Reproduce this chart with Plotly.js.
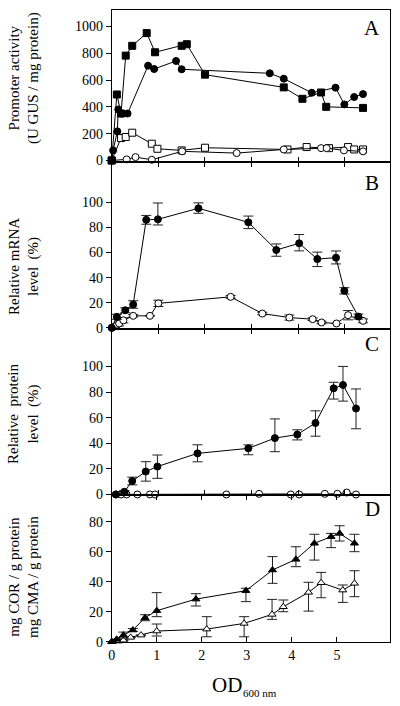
<!DOCTYPE html>
<html><head><meta charset="utf-8">
<script src="https://cdn.plot.ly/plotly-3.0.1.min.js"></script>
<style>html,body{margin:0;padding:0;background:#fff}#chart{width:400px;height:706px}</style>
</head><body><div id="chart"></div>
<script>
// Panel A: promoter activity (U GUS / mg protein)
var aSqFilledX = [0, 0.11, 0.2, 0.3, 0.44, 0.75, 0.93, 1.5, 1.61, 2.0, 3.69, 4.09, 4.49, 4.6, 5.39];
var aSqFilledY = [0, 492, 350, 782, 855, 950, 807, 855, 867, 640, 545, 460, 507, 400, 392];
var aCircFilledX = [0, 0.03, 0.12, 0.14, 0.21, 0.34, 0.78, 0.91, 1.38, 1.5, 3.39, 3.69, 4.29, 4.8, 4.99, 5.2, 5.39];
var aCircFilledY = [0, 75, 217, 380, 350, 350, 707, 682, 742, 680, 650, 610, 505, 543, 418, 473, 495];
var aSqOpenX = [0, 0.2, 0.3, 0.44, 0.86, 0.98, 1.5, 2.0, 3.77, 4.18, 4.66, 5.07, 5.2, 5.39];
var aSqOpenY = [0, 167, 175, 207, 125, 87, 75, 95, 82, 100, 92, 100, 82, 82];
var aCircOpenX = [0, 0.32, 0.51, 0.86, 1.51, 2.68, 3.69, 4.49, 4.61, 4.98, 5.39];
var aCircOpenY = [0, 8, 25, 5, 68, 55, 82, 92, 92, 75, 68];

// Panel B: relative mRNA level (%)
var bFilledX = [0, 0.11, 0.29, 0.46, 0.74, 0.99, 1.86, 2.93, 3.53, 4.02, 4.41, 4.81, 4.99, 5.29];
var bFilledY = [0, 8.8, 14, 18.6, 86, 86.4, 95.2, 84, 62, 67.3, 54.8, 55.9, 29.5, 9];
var bFilledErrP = [0, 2, 2, 3, 3.5, 13, 4.3, 5, 4.8, 7, 5.5, 5.3, 2.5, 2];
var bFilledErrM = [0, 2, 2, 3, 3.5, 4.5, 4, 5, 5, 6, 6, 5, 2.5, 2];
var bOpenX = [0, 0.07, 0.16, 0.25, 0.46, 0.82, 1.0, 2.55, 3.23, 3.81, 4.31, 4.5, 4.82, 5.07, 5.39];
var bOpenY = [0, 1.3, 3.5, 6, 9.6, 9.6, 19.5, 24.7, 11.4, 8.2, 6.9, 4.3, 3.5, 10.1, 5.6];
var bOpenErr = [0, 1, 2, 2, 1, 0, 2.5, 1, 1, 2, 1, 1, 0, 3.7, 1.5];

// Panel C: relative protein level (%)
var cFilledX = [0.09, 0.27, 0.44, 0.73, 0.98, 1.84, 2.93, 3.5, 3.98, 4.37, 4.76, 4.96, 5.24];
var cFilledY = [0, 2.1, 10.5, 17.9, 21.8, 32.1, 36, 44, 46.8, 55.8, 82.9, 85.5, 67.1];
var cFilledErrP = [0, 1, 3, 7.7, 9, 6.7, 2.7, 15, 3.7, 9.5, 4.7, 14.5, 15.3];
var cFilledErrM = [0, 1, 3, 7.5, 9.2, 6.6, 5, 10.6, 4.2, 10.3, 8.4, 12.6, 15.8];
var cOpenX = [0.09, 0.2, 0.32, 0.55, 0.82, 0.93, 2.46, 3.16, 3.84, 4.02, 4.57, 4.84, 5.04, 5.24];
var cOpenY = [0, 0, 0, 0, 0, 0, 0, 0.5, 0, 0, 0.5, 0.5, 1.5, 0];

// Panel D: mg COR / g protein (filled), mg CMA / g protein (open)
var dFilledX = [0, 0.11, 0.26, 0.47, 0.74, 1.0, 1.87, 2.98, 3.57, 4.09, 4.5, 4.87, 5.06, 5.39];
var dFilledY = [0, 1.6, 4.4, 7.8, 16, 20.7, 28.4, 34, 47.8, 54.9, 65.6, 70, 72.2, 65.6];
var dFilledErrP = [0, 0, 2, 1, 2, 12, 3.6, 1.6, 8.9, 8.4, 6, 2.2, 5.1, 6];
var dFilledErrM = [0, 0, 2, 1, 2, 4, 4.6, 7.3, 8.9, 4.9, 11.2, 7.3, 5.1, 5.6];
var dOpenX = [0, 0.15, 0.26, 0.42, 0.65, 1.0, 2.11, 2.94, 3.56, 3.81, 4.37, 4.65, 5.13, 5.39];
var dOpenY = [0, 0.4, 1, 2.9, 4.4, 7.1, 8.4, 12.2, 18.2, 23.3, 32.9, 39.3, 34.4, 38.9];
var dOpenErrP = [0, 0, 0, 0, 0, 4.7, 8.3, 4.5, 10, 4.5, 6.7, 6.9, 3.4, 8.4];
var dOpenErrM = [0, 0, 0, 0, 0, 3.3, 5.1, 8.9, 3.3, 3.3, 12.5, 10, 8.2, 8.9];

var xTickVals = [0, 1, 2, 3, 4, 5];
var xTickText = ['0', '1', '2', '3', '4', '5'];
var aTickVals = [0, 200, 400, 600, 800, 1000];
var pctTickVals = [0, 20, 40, 60, 80, 100];
var dTickVals = [0, 20, 40, 60, 80];

var FONT = 'Liberation Serif, Times New Roman, serif';

function tr(x, y, xa, ya, sym, filled, errP, errM) {
  var t = {
    x: x, y: y, xaxis: xa, yaxis: ya, type: 'scatter', mode: 'lines+markers',
    line: {color: '#000', width: 1},
    marker: {symbol: sym, size: 7, color: filled ? '#000' : '#fff', line: {color: '#000', width: 1}},
    cliponaxis: false, showlegend: false, hoverinfo: 'skip'
  };
  if (errP) {
    t.error_y = {type: 'data', array: errP, arrayminus: errM || errP, symmetric: false,
      color: '#222', thickness: 1, width: 5};
  }
  return t;
}

var data = [
  tr(aSqOpenX, aSqOpenY, 'x', 'y', 'square', false),
  tr(aCircOpenX, aCircOpenY, 'x', 'y', 'circle', false),
  tr(aCircFilledX, aCircFilledY, 'x', 'y', 'circle', true),
  tr(aSqFilledX, aSqFilledY, 'x', 'y', 'square', true),
  tr(bOpenX, bOpenY, 'x2', 'y2', 'circle', false, bOpenErr, bOpenErr),
  tr(bFilledX, bFilledY, 'x2', 'y2', 'circle', true, bFilledErrP, bFilledErrM),
  tr(cOpenX, cOpenY, 'x3', 'y3', 'circle', false),
  tr(cFilledX, cFilledY, 'x3', 'y3', 'circle', true, cFilledErrP, cFilledErrM),
  tr(dOpenX, dOpenY, 'x4', 'y4', 'triangle-up', false, dOpenErrP, dOpenErrM),
  tr(dFilledX, dFilledY, 'x4', 'y4', 'triangle-up', true, dFilledErrP, dFilledErrM)
];

var XD = [0.2793, 0.974];
function xax(anchor, range, mirror, labels) {
  return {domain: XD, anchor: anchor, range: range, showline: true, linecolor: '#000', linewidth: 1,
    mirror: mirror, ticks: 'inside', ticklen: 5, tickcolor: '#000', tickvals: xTickVals, ticktext: xTickText,
    showticklabels: labels, showgrid: false, zeroline: false, fixedrange: true,
    tickfont: {family: FONT, size: 14, color: '#000'}};
}
function yax(anchor, dom, range, vals) {
  return {domain: dom, anchor: anchor, range: range, showline: true, linecolor: '#000', linewidth: 1,
    mirror: true, ticks: 'outside', ticklen: 5, tickcolor: '#000', tickvals: vals,
    ticktext: vals.map(String),
    showgrid: false, zeroline: false, fixedrange: true,
    tickfont: {family: FONT, size: 14, color: '#000'}};
}

function ann(text, x, y, size, angle) {
  return {text: text, x: x, y: y, xref: 'paper', yref: 'paper', showarrow: false,
    xanchor: 'center', yanchor: 'middle', textangle: angle || 0,
    font: {family: FONT, size: size, color: '#000'}};
}

var layout = {
  width: 400, height: 706, margin: {l: 0, r: 0, t: 0, b: 0},
  paper_bgcolor: '#fff', plot_bgcolor: '#fff', showlegend: false,
  xaxis: xax('y', [0, 5.96], true, false),
  xaxis2: xax('y2', [0, 5.96], 'allticks', false),
  xaxis3: xax('y3', [0, 5.96], 'allticks', false),
  xaxis4: xax('y4', [0, 6.17], 'allticks', true),
  yaxis: yax('x', [0.7712, 0.9858], [-8, 1122], aTickVals),
  yaxis2: yax('x2', [0.5347, 0.7712], [-0.5, 132.4], pctTickVals),
  yaxis3: yax('x3', [0.2989, 0.5347], [-0.4, 129.6], pctTickVals),
  yaxis4: yax('x4', [0.0900, 0.2989], [-0.5, 97.8], dTickVals),
  annotations: [
    ann('Promoter activity<br>(U GUS / mg protein)', 0.06, 0.8895, 15, -90),
    ann('Relative mRNA<br>level  (%)', 0.06, 0.6218, 15, -90),
    ann('Relative  protein<br>level  (%)', 0.06, 0.4136, 15, -90),
    ann('mg COR / g protein<br>mg CMA / g protein', 0.06, 0.1827, 15, -90),
    ann('A', 0.93, 0.9603, 21),
    ann('B', 0.93, 0.7408, 21),
    ann('C', 0.93, 0.5127, 21),
    ann('D', 0.93, 0.279, 21),
    ann('OD', 0.5667, 0.0297, 21),
    ann('600 nm', 0.65, 0.0191, 11)
  ]
};

Plotly.newPlot('chart', data, layout, {staticPlot: true, displayModeBar: false});
</script></body></html>
